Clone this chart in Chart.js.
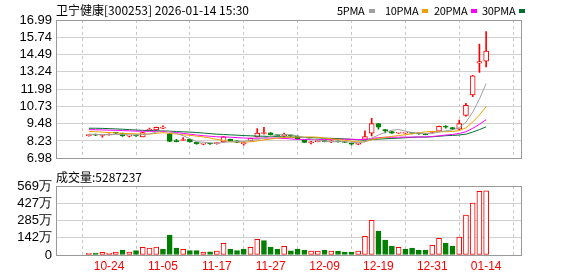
<!DOCTYPE html>
<html>
<head>
<meta charset="utf-8">
<script src="https://cdn.jsdelivr.net/npm/chart.js@4/dist/chart.umd.min.js"></script>
<style>
  body { margin: 0; background: #fff; width: 578px; height: 276px; overflow: hidden; position: relative; font-family: "Noto Sans CJK SC", sans-serif; }
  canvas { position: absolute; left: 0; }
  #k { top: 0; }
  #v { top: 170px; }
  .t { position: absolute; font-size: 12px; line-height: 14px; color: #000; white-space: nowrap; }
  .lg { font-size: 11px; letter-spacing: -0.3px; }
  .sq { display: inline-block; width: 6px; height: 4px; margin-left: 4px; vertical-align: 2px; }
</style>
</head>
<body>
<canvas id="k" width="578" height="170"></canvas>
<canvas id="v" width="578" height="106"></canvas>
<div class="t" style="left:56px;top:3px">卫宁健康[300253] 2026-01-14 15:30</div>
<div class="t lg" style="left:337px;top:3px">5PMA<span class="sq" style="background:#a0a0a0"></span></div>
<div class="t lg" style="left:385px;top:3px">10PMA<span class="sq" style="background:#f0a000"></span></div>
<div class="t lg" style="left:434px;top:3px">20PMA<span class="sq" style="background:#ff00ff"></span></div>
<div class="t lg" style="left:482px;top:3px">30PMA<span class="sq" style="background:#007030"></span></div>
<div class="t" style="left:56px;top:170px;font-size:12px">成交量:5287237</div>
<script>
// 日期 (交易日)
const dates = [
  "10-21","10-22","10-23","10-24","10-27","10-28","10-29","10-30","10-31",
  "11-03","11-04","11-05","11-06","11-07","11-10","11-11","11-12","11-13","11-14",
  "11-17","11-18","11-19","11-20","11-21","11-24","11-25","11-26","11-27","11-28",
  "12-01","12-02","12-03","12-04","12-05","12-08","12-09","12-10","12-11","12-12",
  "12-15","12-16","12-17","12-18","12-19","12-22","12-23","12-24","12-25","12-26",
  "12-29","12-30","12-31","01-05","01-06","01-07","01-08","01-09","01-12","01-13","01-14"
]
const tickDates = ["10-24","11-05","11-17","11-27","12-09","12-19","12-31","01-14"]

// K线
const open = [
  8.62,8.68,8.63,8.66,8.84,8.78,8.58,8.63,8.53,9.00,
  9.03,9.16,8.75,8.22,8.26,8.34,8.13,8.00,8.04,8.04,
  8.16,8.34,8.24,8.04,8.25,8.53,8.77,8.82,8.65,8.62,
  8.63,8.58,8.30,8.10,8.18,8.22,8.16,8.20,8.15,8.04,
  7.99,8.34,8.80,9.48,9.02,8.91,8.80,8.80,8.82,8.78,
  8.72,8.84,8.94,9.25,9.20,9.08,10.07,11.57,13.86,14.00
]
const high = [
  8.68,8.72,8.70,8.74,8.86,8.80,8.64,8.65,8.86,9.17,
  9.24,9.33,8.78,8.34,8.48,8.36,8.14,8.06,8.06,8.12,
  8.56,8.36,8.26,8.16,8.44,9.12,9.22,8.84,8.68,8.80,
  8.66,8.60,8.31,8.20,8.24,8.24,8.25,8.22,8.17,8.06,
  8.05,8.96,9.86,9.51,9.08,8.92,8.86,8.84,8.84,8.80,
  8.74,8.92,9.30,9.35,9.22,9.75,10.95,12.98,15.25,16.16
]
const low = [
  8.58,8.62,8.50,8.64,8.76,8.55,8.52,8.56,8.52,8.98,
  9.00,9.12,8.18,8.16,8.25,8.15,8.00,7.96,7.98,8.00,
  8.14,8.20,8.10,7.93,8.22,8.50,8.72,8.64,8.58,8.48,
  8.56,8.36,8.11,8.02,8.16,8.16,8.10,8.14,8.10,7.93,
  7.96,8.30,8.60,9.08,8.82,8.78,8.78,8.78,8.74,8.70,
  8.66,8.80,8.92,9.15,9.05,9.05,10.02,11.43,13.20,13.60
]
const close = [
  8.66,8.65,8.68,8.70,8.80,8.60,8.62,8.60,8.84,9.04,
  9.22,9.19,8.20,8.18,8.28,8.17,8.02,8.04,8.01,8.08,
  8.52,8.22,8.12,8.06,8.42,8.80,8.79,8.66,8.62,8.66,
  8.60,8.38,8.12,8.14,8.22,8.18,8.20,8.16,8.12,8.00,
  8.03,8.55,9.49,9.22,8.98,8.80,8.83,8.81,8.78,8.74,
  8.68,8.87,9.28,9.22,9.08,9.49,10.81,12.95,13.98,14.74
]

// 均线
const ma5 = [
  8.72,8.70,8.68,8.68,8.70,8.69,8.68,8.66,8.69,8.74,
  8.86,8.98,8.90,8.77,8.61,8.40,8.17,8.14,8.10,8.06,
  8.13,8.17,8.19,8.20,8.27,8.32,8.44,8.55,8.66,8.71,
  8.67,8.58,8.48,8.38,8.29,8.21,8.17,8.18,8.18,8.13,
  8.10,8.17,8.44,8.66,8.85,9.01,9.06,8.93,8.84,8.79,
  8.77,8.78,8.87,8.96,9.03,9.19,9.58,10.31,11.26,12.39
]
const ma10 = [
  8.92,8.90,8.87,8.84,8.81,8.78,8.76,8.74,8.73,8.72,
  8.78,8.83,8.78,8.73,8.68,8.64,8.58,8.52,8.44,8.34,
  8.27,8.17,8.17,8.15,8.17,8.23,8.31,8.37,8.43,8.49,
  8.50,8.51,8.51,8.52,8.50,8.44,8.38,8.33,8.28,8.21,
  8.16,8.17,8.31,8.42,8.49,8.56,8.62,8.68,8.75,8.82,
  8.89,8.92,8.90,8.90,8.91,8.98,9.18,9.59,10.11,10.71
]
const ma20 = [
  9.05,9.04,9.03,9.01,9.00,8.98,8.96,8.94,8.93,8.93,
  8.93,8.92,8.88,8.84,8.78,8.72,8.66,8.61,8.57,8.53,
  8.52,8.50,8.47,8.44,8.42,8.43,8.44,8.44,8.43,8.41,
  8.38,8.34,8.34,8.34,8.33,8.33,8.34,8.35,8.35,8.35,
  8.33,8.34,8.41,8.47,8.50,8.50,8.50,8.51,8.51,8.52,
  8.52,8.55,8.60,8.66,8.70,8.77,8.90,9.14,9.43,9.77
]
const ma30 = [
  9.15,9.15,9.14,9.12,9.10,9.08,9.05,9.02,9.00,8.98,
  8.97,8.96,8.94,8.91,8.89,8.87,8.84,8.80,8.76,8.72,
  8.70,8.67,8.65,8.62,8.60,8.58,8.57,8.55,8.54,8.52,
  8.51,8.50,8.49,8.47,8.45,8.43,8.42,8.40,8.38,8.35,
  8.31,8.29,8.33,8.36,8.39,8.41,8.43,8.46,8.49,8.51,
  8.51,8.53,8.57,8.61,8.63,8.66,8.72,8.87,9.05,9.25
]

// 成交量 (万)
const volume = [
  16,16,22,16,25,41,25,36,63,58,
  66,49,165,58,47,36,36,25,27,33,
  96,49,36,49,63,129,118,66,49,71,
  35,49,41,33,33,41,33,33,25,25,
  33,154,286,198,124,74,63,49,58,41,
  41,80,137,99,74,148,330,429,525,528.7
]

const priceTicks = [6.98, 8.23, 9.48, 10.73, 11.98, 13.24, 14.49, 15.74, 16.99]
const volTicks = [0, 142, 285, 427, 569]

const RED = "#ff0000"
const GREEN = "#008000"
const numFont = { family: "Liberation Sans, Arial, sans-serif", size: 13 }

const tickIdx = tickDates.map((d) => dates.indexOf(d))
const candleUp = close.map((c, i) => c >= open[i])
const volUp = close.map((c, i) => c >= (i > 0 ? close[i - 1] : open[i]))

// 外框
const framePlugin = {
  id: "frame",
  afterDraw(chart) {
    const a = chart.chartArea
    const ctx = chart.ctx
    ctx.save()
    ctx.strokeStyle = "#999"
    ctx.lineWidth = 1
    ctx.strokeRect(Math.round(a.left) + 0.5, Math.round(a.top) + 0.5,
      Math.round(a.right - a.left) - 1, Math.round(a.bottom - a.top))
    ctx.restore()
  },
}

function xScale(showLabels) {
  return {
    type: "linear",
    min: -0.56,
    max: 60,
    afterBuildTicks: (s) => { s.ticks = tickIdx.map((v) => ({ value: v })) },
    afterFit: (s) => { s.height = showLabels ? 21 : 0 },
    grid: { color: "#c8c8c8", drawTicks: false },
    border: { display: false, dash: [3, 3] },
    ticks: {
      display: showLabels,
      autoSkip: false,
      maxRotation: 0,
      padding: 4,
      color: RED,
      font: { family: "Liberation Sans, Arial, sans-serif", size: 12 },
      callback: (v) => dates[v],
    },
  }
}

function yScale(min, max, ticks, fmt) {
  return {
    min,
    max,
    afterBuildTicks: (s) => { s.ticks = ticks.map((v) => ({ value: v })) },
    afterFit: (s) => { s.width = 56 },
    grid: { color: "#d0d0d0", drawTicks: false },
    border: { display: false },
    ticks: { autoSkip: false, padding: 4, color: "#000", font: numFont, callback: fmt },
  }
}

const lineDs = (label, arr, color) => ({
  type: "line",
  label,
  data: arr.map((v, i) => ({ x: i, y: v })),
  borderColor: color,
  borderWidth: 1,
  pointRadius: 0,
  tension: 0,
  order: 0,
})

new Chart(document.getElementById("k"), {
  type: "bar",
  data: {
    datasets: [
      lineDs("5PMA", ma5, "#a0a0a0"),
      lineDs("10PMA", ma10, "#f0a000"),
      lineDs("20PMA", ma20, "#ff00ff"),
      lineDs("30PMA", ma30, "#007030"),
      {
        label: "wick",
        data: dates.map((d, i) => ({ x: i, y: [low[i], high[i]] })),
        backgroundColor: candleUp.map((u) => (u ? RED : GREEN)),
        barThickness: 1,
        grouped: false,
        order: 2,
      },
      {
        label: "body",
        data: dates.map((d, i) => ({ x: i, y: [Math.min(open[i], close[i]), Math.max(open[i], close[i])] })),
        backgroundColor: candleUp.map((u) => (u ? "#fff" : GREEN)),
        borderColor: candleUp.map((u) => (u ? RED : GREEN)),
        borderWidth: 1,
        borderSkipped: false,
        minBarLength: 1,
        barThickness: 5,
        grouped: false,
        order: 1,
      },
    ],
  },
  options: {
    responsive: false,
    animation: false,
    devicePixelRatio: 1,
    layout: { padding: { left: 0, right: 56, top: 20, bottom: 5 } },
    plugins: { legend: { display: false }, tooltip: { enabled: false } },
    scales: {
      x: xScale(false),
      y: yScale(6.98, 16.99, priceTicks, (v) => v.toFixed(2)),
    },
  },
  plugins: [framePlugin],
})

new Chart(document.getElementById("v"), {
  type: "bar",
  data: {
    datasets: [
      {
        label: "成交量",
        data: volume.map((v, i) => ({ x: i, y: v })),
        backgroundColor: volUp.map((u) => (u ? "#fff" : GREEN)),
        borderColor: volUp.map((u) => (u ? RED : GREEN)),
        borderWidth: 1,
        borderSkipped: false,
        barThickness: 5,
      },
    ],
  },
  options: {
    responsive: false,
    animation: false,
    devicePixelRatio: 1,
    layout: { padding: { left: 0, right: 56, top: 16, bottom: 0 } },
    plugins: { legend: { display: false }, tooltip: { enabled: false } },
    scales: {
      x: xScale(true),
      y: yScale(0, 569, volTicks, (v) => (v === 0 ? "0" : v + "万")),
    },
  },
  plugins: [framePlugin],
})
</script>
</body>
</html>
